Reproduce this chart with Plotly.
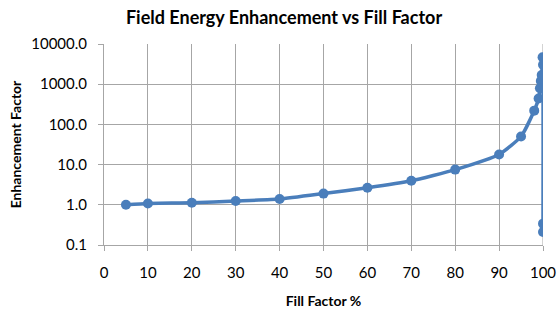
import plotly.graph_objects as go

fill_factor = [5, 10, 20, 30, 40, 50, 60, 70, 80, 90, 95, 98, 99, 99.3, 99.5, 99.7, 99.9, 100, 100, 100]
enhancement = [1.0, 1.08, 1.12, 1.24, 1.39, 1.9, 2.65, 3.95, 7.5, 17.9, 50, 220, 440, 790, 1200, 1700, 4700, 3040, 0.34, 0.21]

y_tick_vals = [0.1, 1, 10, 100, 1000, 10000]
y_tick_text = ["0.1", "1.0", "10.0", "100.0", "1000.0", "10000.0"]
x_tick_vals = [0, 10, 20, 30, 40, 50, 60, 70, 80, 90, 100]

color = "#4a7ebb"
font_family = "Lato, 'Open Sans', sans-serif"

fig = go.Figure()
fig.add_trace(go.Scatter(
    x=fill_factor, y=enhancement, mode="lines+markers",
    line=dict(color=color, width=3.5, shape="spline", smoothing=0.5),
    marker=dict(color=color, size=10),
    showlegend=False,
))

fig.update_layout(
    autosize=False,
    width=558, height=313,
    margin=dict(l=104, r=15, t=44, b=68),
    paper_bgcolor="white", plot_bgcolor="white",
    font=dict(family=font_family, color="#000000"),
    title=dict(text="<b>Field Energy Enhancement vs Fill Factor</b>",
               x=0.509, xanchor="center", y=0.945, yanchor="middle",
               font=dict(size=18, family=font_family)),
    xaxis=dict(range=[0, 100], tickvals=x_tick_vals, showgrid=True, automargin=False,
               gridcolor="#a6a6a6", gridwidth=1, zeroline=False,
               showline=True, linecolor="#a6a6a6", ticks="outside",
               ticklen=5, tickcolor="#a6a6a6", mirror=False,
               tickfont=dict(size=15), ticklabelstandoff=9,
               title=dict(text="<b>Fill Factor %</b>", font=dict(size=14), standoff=16)),
    yaxis=dict(type="log", range=[-1, 4], tickvals=y_tick_vals, ticktext=y_tick_text,
               showgrid=True, gridcolor="#a6a6a6", gridwidth=1, zeroline=False, automargin=False,
               showline=True, linecolor="#a6a6a6", ticks="outside",
               ticklen=5, tickcolor="#a6a6a6",
               tickfont=dict(size=15), ticklabelstandoff=8,
               title=dict(text="<b>Enhancement Factor</b>", font=dict(size=14), standoff=6)),
)
fig.add_shape(type="line", xref="x", yref="paper", x0=100, x1=100, y0=0, y1=1,
              line=dict(color="#a6a6a6", width=1), layer="below")

fig.write_html("out.html", config={"displayModeBar": False, "responsive": False},
               post_script="document.body.style.margin='0';document.body.style.overflow='hidden';")
